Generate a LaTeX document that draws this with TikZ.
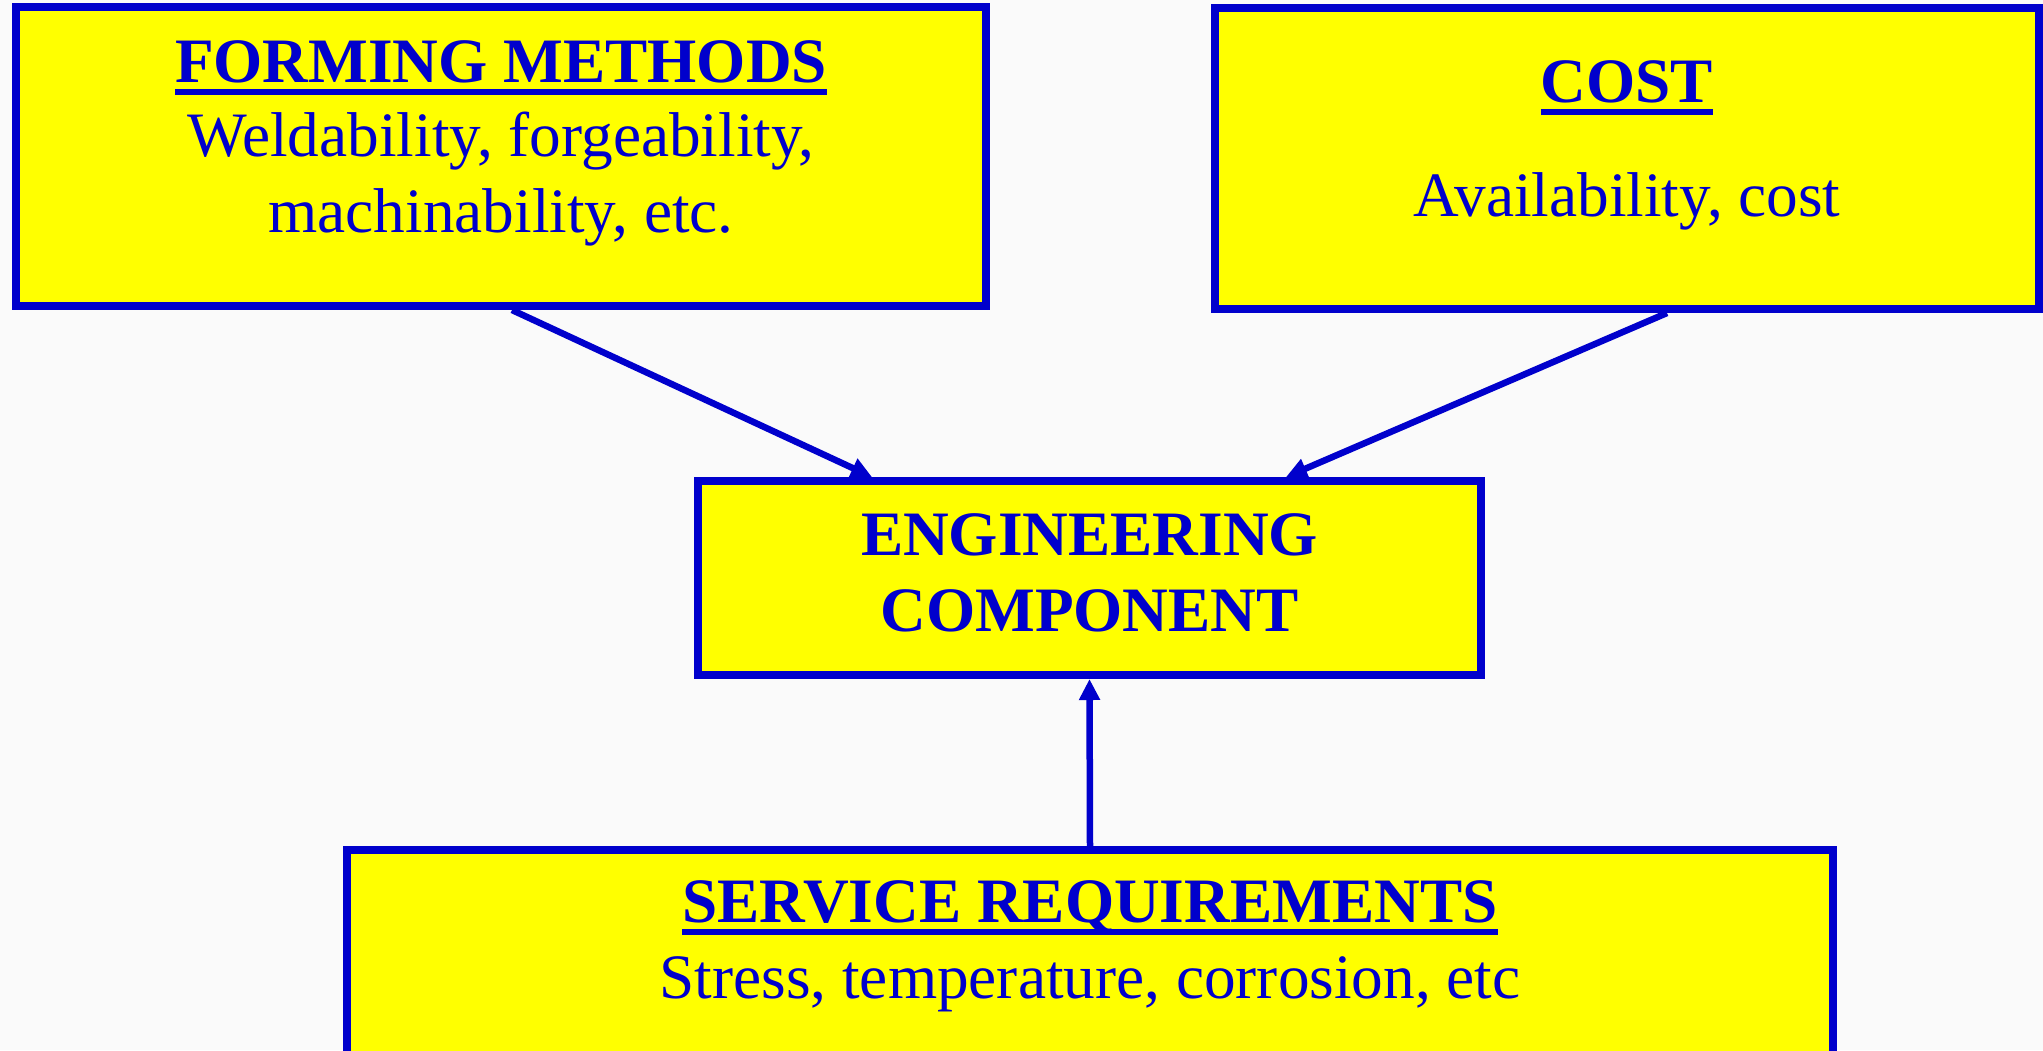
\documentclass[tikz,border=0pt]{standalone}
\usepackage{fontspec}
\setmainfont{Liberation Serif}
\usepackage{tikz}
\usetikzlibrary{arrows.meta}
\definecolor{paper}{RGB}{250, 250, 250}
\definecolor{lemon}{RGB}{255, 255, 0}
\definecolor{ink}{RGB}{0, 0, 204}
\newcommand{\thickul}[1]{\setbox0\hbox{#1}\rlap{\rule[-0.125cm]{\wd0}{0.055cm}}\box0}

\begin{document}
\begin{tikzpicture}[scale=1.0,
  box/.style={draw=ink, fill=lemon, line width=0.08cm, inner sep=0},
  link/.style={draw=ink, line width=0.065cm, -{Triangle[length=0.21cm, width=0.2cm]}},
  title/.style={text=ink, font=\fontsize{18}{21.5}\selectfont\bfseries, anchor=base, align=center, inner sep=0},
  words/.style={text=ink, font=\fontsize{18}{21.5}\selectfont, anchor=base, align=center, inner sep=0}]

  \useasboundingbox (0, 0) rectangle (20.43, -10.50);
  \fill[paper] (0, 0) rectangle (20.43, -10.50);
  \clip (0, 0) rectangle (20.43, -10.50);

  \begin{scope}[shift={(5.01, -1.565)}]
    \node[box, minimum width=9.70cm, minimum height=2.99cm] (forming) at (0, 0) {};
    \node[title] (forminghead) at (0, 0.745) {\thickul{FORMING METHODS}};
    \node[words] (formingtext) at (0, -0.755)
      {Weldability, forgeability,\\ machinability, etc.};
  \end{scope}

  \begin{scope}[shift={(16.27, -1.585)}]
    \node[box, minimum width=8.24cm, minimum height=3.01cm] (cost) at (0, 0) {};
    \node[title] (costhead) at (0, 0.565) {\thickul{COST}};
    \node[words] (costtext) at (0, -0.58) {Availability, cost};
  \end{scope}

  \begin{scope}[shift={(10.895, -5.78)}]
    \node[box, minimum width=7.83cm, minimum height=1.94cm] (engineering) at (0, 0) {};
    \node[title] (engineeringhead) at (0, -0.53) {ENGINEERING\\ COMPONENT};
  \end{scope}

  \begin{scope}[shift={(10.90, -9.65)}]
    \node[box, minimum width=14.86cm, minimum height=2.30cm] (service) at (0, 0) {};
    \node[title] (servicehead) at (0, 0.43) {\thickul{SERVICE REQUIREMENTS}};
    \node[words] (servicetext) at (0, -0.33) {Stress, temperature, corrosion, etc};
  \end{scope}

  \draw[link] ([xshift=0.11cm]forming.south) -- ([xshift=1.78cm]engineering.north west);
  \draw[link] ([xshift=0.40cm]cost.south) -- ([xshift=-1.99cm]engineering.north east);
  \draw[link] (service.north) -- (engineering.south);

\end{tikzpicture}
\end{document}
